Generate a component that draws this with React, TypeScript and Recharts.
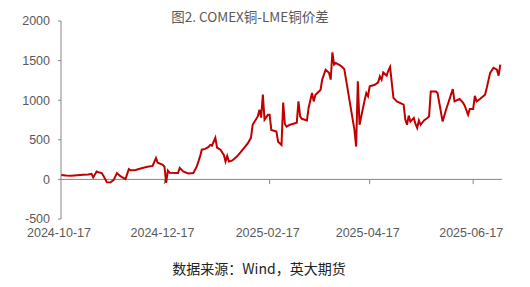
import React from "react";
import { LineChart, Line, XAxis, YAxis, ReferenceLine } from "recharts";

const startDate = "2024-10-17";
const endDate = "2025-07-04";

const dates = [
  "2024-10-17", "2024-10-20", "2024-10-23", "2024-10-30", "2024-11-02", "2024-11-04",
  "2024-11-05", "2024-11-07", "2024-11-08", "2024-11-10", "2024-11-11", "2024-11-13",
  "2024-11-15", "2024-11-17", "2024-11-19", "2024-11-21", "2024-11-23", "2024-11-24",
  "2024-11-26", "2024-11-27", "2024-11-30", "2024-12-04", "2024-12-07", "2024-12-10",
  "2024-12-12", "2024-12-13", "2024-12-16", "2024-12-17", "2024-12-18", "2024-12-19",
  "2024-12-20", "2024-12-25", "2024-12-26", "2024-12-28", "2024-12-31", "2025-01-03",
  "2025-01-05", "2025-01-07", "2025-01-08", "2025-01-10", "2025-01-12", "2025-01-13",
  "2025-01-14", "2025-01-16", "2025-01-17", "2025-01-19", "2025-01-21", "2025-01-22",
  "2025-01-23", "2025-01-24", "2025-01-26", "2025-01-29", "2025-02-04", "2025-02-06",
  "2025-02-07", "2025-02-10", "2025-02-11", "2025-02-12", "2025-02-13", "2025-02-14",
  "2025-02-16", "2025-02-17", "2025-02-18", "2025-02-21", "2025-02-22", "2025-02-24",
  "2025-02-25", "2025-02-26", "2025-02-27", "2025-03-01", "2025-03-05", "2025-03-06",
  "2025-03-07", "2025-03-08", "2025-03-11", "2025-03-12", "2025-03-14", "2025-03-15",
  "2025-03-16", "2025-03-19", "2025-03-20", "2025-03-22", "2025-03-24", "2025-03-25",
  "2025-03-26", "2025-03-27", "2025-03-28", "2025-03-31", "2025-04-02", "2025-04-08",
  "2025-04-09", "2025-04-10", "2025-04-11", "2025-04-14", "2025-04-15", "2025-04-16",
  "2025-04-17", "2025-04-20", "2025-04-22", "2025-04-23", "2025-04-24", "2025-04-25",
  "2025-04-27", "2025-04-28", "2025-04-29", "2025-05-01", "2025-05-03", "2025-05-07",
  "2025-05-08", "2025-05-09", "2025-05-10", "2025-05-11", "2025-05-13", "2025-05-14",
  "2025-05-15", "2025-05-16", "2025-05-17", "2025-05-19", "2025-05-21", "2025-05-22",
  "2025-05-23", "2025-05-26", "2025-05-27", "2025-05-30", "2025-06-01", "2025-06-05",
  "2025-06-06", "2025-06-09", "2025-06-11", "2025-06-12", "2025-06-14", "2025-06-15",
  "2025-06-17", "2025-06-18", "2025-06-19", "2025-06-21", "2025-06-24", "2025-06-25",
  "2025-06-27", "2025-06-29", "2025-07-01", "2025-07-02", "2025-07-03",
];

const spread = [
  57, 50, 45, 60, 62, 70,
  25, 100, 90, 80, 45, -35,
  -40, -10, 80, 40, 15, 5,
  130, 115, 120, 145, 160, 170,
  270, 210, 185, 160, -45, 110,
  85, 80, 145, 100, 75, 80,
  160, 290, 375, 385, 410, 435,
  425, 525, 400, 375, 310, 225,
  295, 225, 240, 295, 450, 525,
  690, 795, 880, 780, 1070, 755,
  815, 815, 625, 605, 475, 435,
  970, 700, 665, 690, 715, 985,
  795, 765, 745, 905, 1090, 985,
  1070, 1130, 1260, 1385, 1345, 1260,
  1605, 1450, 1470, 1435, 1395, 625,
  415, 1240, 690, 1000, 1090, 1050,
  1175, 1195, 1225, 1300, 1260, 1350,
  1310, 1375, 1420, 1030, 985, 945,
  755, 690, 805, 730, 775, 700,
  650, 745, 690, 745, 775, 795,
  1110, 1110, 1090, 730, 880, 1140,
  985, 1015, 970, 930, 815, 890,
  890, 1055, 985, 1015, 1070, 1155,
  1345, 1410, 1385, 1310, 1450,
];

const xTickLabels = ["2024-10-17", "2024-12-17", "2025-02-17", "2025-04-17", "2025-06-17"];
const yTicks = [-500, 0, 500, 1000, 1500, 2000];

const DAY = 86400000;
const toDay = (s: string) =>
  Math.round((Date.parse(s + "T00:00:00Z") - Date.parse(startDate + "T00:00:00Z")) / DAY);

const data = dates.map((d, i) => ({ day: toDay(d), value: spread[i] }));
const xTicks = xTickLabels.map(toDay);
const labelFor: Record<number, string> = {};
xTickLabels.forEach((s) => (labelFor[toDay(s)] = s));

const axisGray = "#868686";
const textGray = "#595959";
const tickFont = '"Liberation Sans Narrow", "Liberation Sans", Arial, sans-serif';

const DateTick = (props: any) => {
  const { x, y, payload } = props;
  return (
    <text x={x - 2} y={y + 10} textAnchor="middle" fill={textGray} fontSize={12.5} fontFamily={tickFont}>
      {labelFor[payload.value]}
    </text>
  );
};

export default function App() {
  return (
    <div style={{ position: "fixed", left: 0, top: 0, width: 530, height: 287, background: "#fff" }}>
      <div
        style={{
          position: "absolute",
          left: 0,
          width: 500,
          top: 6,
          textAlign: "center",
          fontSize: 13.5,
          color: textGray,
          fontFamily: '"Noto Sans CJK SC", sans-serif',
          lineHeight: "20px",
        }}
      >
        图2. COMEX铜-LME铜价差
      </div>
      <LineChart width={530} height={287} data={data} margin={{ top: 21, right: 28, bottom: 38, left: 0 }}>
        <XAxis
          dataKey="day"
          type="number"
          domain={[0, toDay(endDate)]}
          ticks={xTicks}
          axisLine={false}
          tickLine={false}
          height={30}
          tick={<DateTick />}
          interval={0}
        />
        <YAxis
          domain={[-500, 2000]}
          ticks={yTicks}
          width={61}
          axisLine={{ stroke: axisGray }}
          tickLine={{ stroke: axisGray }}
          tickSize={3}
          tickMargin={8}
          tick={{ fill: textGray, fontSize: 12.5, fontFamily: tickFont }}
          interval={0}
        />
        <ReferenceLine y={0} stroke={axisGray} strokeWidth={1} />
        {xTicks.slice(1).map((d) => (
          <ReferenceLine
            key={d}
            segment={[
              { x: d, y: 0 },
              { x: d, y: -60 },
            ]}
            stroke={axisGray}
          />
        ))}
        <Line
          type="linear"
          dataKey="value"
          stroke="#C00000"
          strokeWidth={2}
          dot={false}
          isAnimationActive={false}
        />
      </LineChart>
      <div
        style={{
          position: "absolute",
          left: 0,
          width: 518,
          top: 258,
          textAlign: "center",
          fontSize: 14,
          color: "#222",
          fontFamily: '"Noto Sans CJK SC", sans-serif',
          lineHeight: "20px",
        }}
      >
        数据来源：Wind，英大期货
      </div>
    </div>
  );
}
